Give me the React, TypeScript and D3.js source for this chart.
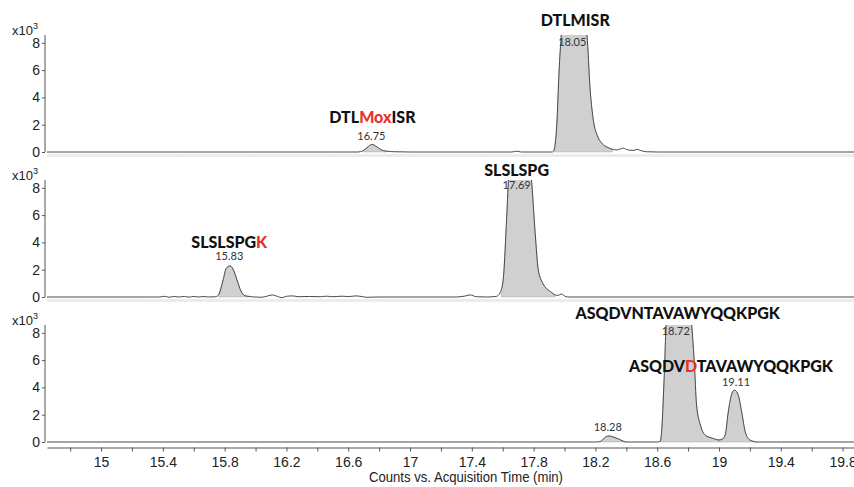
import React, { useRef, useEffect } from "react";
import * as d3 from "d3";

// chromatogram traces: [acquisition time (min), counts (x10^3)]
const traceDTLMISR: [number, number][] = [
  [14.65, 0], [15.5, 0], [16.0, 0], [16.5, 0], [16.66, 0], [16.7, 0.12], [16.73, 0.4],
  [16.755, 0.56], [16.78, 0.42], [16.81, 0.18], [16.85, 0.06], [16.9, 0.02], [17.0, 0],
  [17.5, 0], [17.66, 0], [17.69, 0.06], [17.72, 0], [17.92, 0], [17.932, 0.15],
  [17.949, 1.84], [17.966, 6.2], [17.982, 9.0], [18.0, 11], [18.05, 12.5], [18.1, 11.5],
  [18.13, 9.5], [18.146, 8.5], [18.165, 4.73], [18.184, 2.55], [18.217, 1.09],
  [18.245, 0.6], [18.275, 0.36], [18.31, 0.2], [18.34, 0.15], [18.36, 0.22], [18.38, 0.28],
  [18.41, 0.15], [18.45, 0.12], [18.47, 0.2], [18.49, 0.12], [18.53, 0.02], [18.6, 0],
  [19.874, 0],
];

const traceSLSLSPG: [number, number][] = [
  [14.65, 0], [15.3, 0], [15.38, 0], [15.41, 0.05], [15.44, -0.02], [15.47, 0.04],
  [15.5, 0], [15.54, 0.04], [15.57, -0.01], [15.6, 0.04], [15.63, 0], [15.66, 0.03],
  [15.7, 0], [15.74, 0.02], [15.76, 0.15], [15.79, 1.25], [15.81, 2.1], [15.835, 2.28],
  [15.86, 1.9], [15.88, 1.25], [15.905, 0.45], [15.93, 0.1], [15.96, 0.04], [15.99, 0],
  [16.04, -0.02], [16.08, 0.08], [16.11, 0.15], [16.14, 0.05], [16.17, -0.05],
  [16.2, 0.05], [16.24, 0.08], [16.28, 0.02], [16.35, 0.04], [16.42, 0.02], [16.46, 0.06],
  [16.5, 0.02], [16.56, 0.06], [16.6, 0.03], [16.65, 0.08], [16.69, 0.03], [16.72, -0.02],
  [16.8, 0], [17.3, 0], [17.36, 0.08], [17.39, 0.15], [17.43, 0.02], [17.5, 0],
  [17.56, 0.05], [17.59, 0.5], [17.605, 1.5], [17.626, 5.9], [17.64, 9], [17.7, 12],
  [17.76, 10], [17.785, 8.7], [17.81, 4.7], [17.83, 2.0], [17.86, 1.0], [17.91, 0.39],
  [17.94, 0.15], [17.96, 0.12], [17.98, 0.22], [18.0, 0.08], [18.02, 0], [19.874, 0],
];

const traceASQDV: [number, number][] = [
  [14.65, 0], [18.2, 0], [18.23, 0.03], [18.25, 0.2], [18.27, 0.4], [18.29, 0.44],
  [18.32, 0.35], [18.35, 0.22], [18.38, 0.06], [18.4, 0], [18.6, 0], [18.62, 0.05],
  [18.63, 1.0], [18.645, 4.7], [18.66, 9.0], [18.72, 12.5], [18.79, 11], [18.82, 9],
  [18.84, 5.86], [18.855, 2.7], [18.88, 1.24], [18.91, 0.51], [18.96, 0.27], [19.0, 0.15],
  [19.02, 0.2], [19.04, 0.51], [19.06, 2.2], [19.08, 3.43], [19.1, 3.8], [19.125, 3.43],
  [19.147, 2.2], [19.17, 0.75], [19.2, 0.15], [19.25, 0], [19.874, 0],
];

// integrated peak windows (min)
const windowsDTLMISR = [[16.68, 16.88], [17.93, 18.31]];
const windowsSLSLSPG = [[15.75, 15.97], [17.57, 17.95]];
const windowsASQDV = [[18.23, 18.4], [18.62, 19.0], [19.0, 19.25]];

// peak annotations: retention time, name pieces [text, modified?]
const rtDTLMISR = [16.75, 18.05];
const rtSLSLSPG = [15.83, 17.69];
const rtASQDV = [18.28, 18.72, 19.11];
const namesDTLMISR: [string, boolean][][] = [
  [["DTL", false], ["Mox", true], ["ISR", false]],
  [["DTLMISR", false]],
];
const namesSLSLSPG: [string, boolean][][] = [
  [["SLSLSPG", false], ["K", true]],
  [["SLSLSPG", false]],
];
const namesASQDV: [string, boolean][][] = [
  [],
  [["ASQDVNTAVAWYQQKPGK", false]],
  [["ASQDV", false], ["D", true], ["TAVAWYQQKPGK", false]],
];

const yTicks = [0, 2, 4, 6, 8];
const xTicks = [14.8, 15, 15.2, 15.4, 15.6, 15.8, 16, 16.2, 16.4, 16.6, 16.8, 17, 17.2, 17.4,
  17.6, 17.8, 18, 18.2, 18.4, 18.6, 18.8, 19, 19.2, 19.4, 19.6, 19.8];
const xTickLabels = [15, 15.4, 15.8, 16.2, 16.6, 17, 17.4, 17.8, 18.2, 18.6, 19, 19.4, 19.8];

// layout for the labels (offset from panel zero line, px)
const labelLayout = [
  { rtDy: [-15.5, -110], nameDy: [-35, -132], nameDx: [1, 3] },
  { rtDy: [-40.5, -111.5], nameDy: [-54.5, -126.5], nameDx: [0, 0] },
  { rtDy: [-15, -111, -60], nameDy: [0, -128.5, -76], nameDx: [0, 2, -5] },
];

const App = () => {
  const svgRef = useRef<SVGSVGElement>(null);

  useEffect(() => {
    const svg = d3.select(svgRef.current);
    svg.selectAll("*").remove();

    const x = d3.scaleLinear().domain([14.65, 19.874]).range([47, 854]);
    const zeros = [152, 297, 442];
    const traces = [traceDTLMISR, traceSLSLSPG, traceASQDV];
    const windows = [windowsDTLMISR, windowsSLSLSPG, windowsASQDV];
    const rts = [rtDTLMISR, rtSLSLSPG, rtASQDV];
    const names = [namesDTLMISR, namesSLSLSPG, namesASQDV];
    const axisFont = "'Liberation Sans', Arial, sans-serif";
    const peakFont = "Lato, 'Open Sans', sans-serif";

    zeros.forEach((zero, i) => {
      const y = d3.scaleLinear().domain([0, 8]).range([zero, zero - 109.2]);
      const top = zero - 117;
      const g = svg.append("g");

      // light panel border below the baseline
      if (i < 2) {
        g.append("rect").attr("x", 47).attr("y", zero + 2).attr("width", 807)
          .attr("height", 3).attr("fill", "#ececec");
      }

      const clipId = `clip${i}`;
      svg.append("clipPath").attr("id", clipId).append("rect")
        .attr("x", 47).attr("y", top).attr("width", 807).attr("height", zero + 3 - top);

      const area = d3.area<[number, number]>()
        .x((d) => x(d[0])).y0(y(0)).y1((d) => y(d[1]))
        .curve(d3.curveMonotoneX);
      const line = d3.line<[number, number]>()
        .x((d) => x(d[0])).y((d) => y(d[1]))
        .curve(d3.curveMonotoneX);

      const plot = g.append("g").attr("clip-path", `url(#${clipId})`);
      plot.selectAll(".peak")
        .data(windows[i])
        .join("path")
        .attr("class", "peak")
        .attr("d", (w) => area(traces[i].filter((d) => d[0] >= w[0] - 1e-9 && d[0] <= w[1] + 1e-9)))
        .attr("fill", "#d0d0d0")
        .attr("stroke", "#9a9a9a")
        .attr("stroke-width", 0.4);
      plot.append("path")
        .attr("d", line(traces[i]))
        .attr("fill", "none")
        .attr("stroke", "#4a4a4a")
        .attr("stroke-width", 1);

      // y axis
      const yAxis = d3.axisLeft(y).tickValues(yTicks).tickSize(3).tickPadding(2).tickSizeOuter(0);
      const ya = g.append("g").attr("transform", "translate(45,0)").call(yAxis);
      ya.select(".domain").remove();
      ya.selectAll("line").attr("stroke", "#555");
      ya.selectAll("text").attr("font-family", axisFont).attr("font-size", 14).attr("fill", "#222");
      g.append("line").attr("x1", 45).attr("x2", 45).attr("y1", top).attr("y2", zero)
        .attr("stroke", "#555");
      const mult = g.append("text").attr("x", 12).attr("y", top)
        .attr("font-family", axisFont).attr("font-size", 13).attr("fill", "#222");
      mult.append("tspan").text("x10");
      mult.append("tspan").attr("dy", -6).attr("font-size", 9).text("3");

      // annotations
      const lay = labelLayout[i];
      rts[i].forEach((rt, k) => {
        g.append("text")
          .attr("x", x(rt))
          .attr("y", zero + lay.rtDy[k])
          .attr("dy", "0.35em")
          .attr("text-anchor", "middle")
          .attr("font-family", peakFont)
          .attr("font-size", 11)
          .attr("fill", "#333")
          .text(rt.toFixed(2));
        const parts = names[i][k];
        if (parts.length) {
          const t = g.append("text")
            .attr("x", x(rt) + lay.nameDx[k])
            .attr("y", zero + lay.nameDy[k])
            .attr("dy", "0.35em")
            .attr("text-anchor", "middle")
            .attr("font-family", peakFont)
            .attr("font-weight", 900)
            .attr("font-size", 16)
            .attr("fill", "#111");
          t.selectAll("tspan")
            .data(parts)
            .join("tspan")
            .attr("fill", (p) => (p[1] ? "#e8322b" : "#111"))
            .text((p) => p[0]);
        }
      });
    });

    // x axis
    const xAxis = d3.axisBottom(x).tickValues(xTicks).tickSize(4).tickPadding(6).tickSizeOuter(0)
      .tickFormat((d) => (xTickLabels.some((v) => Math.abs(v - +d) < 1e-6) ? String(d) : ""));
    const xa = svg.append("g").attr("transform", "translate(0,447.5)").call(xAxis);
    xa.select(".domain").attr("stroke", "#555");
    xa.selectAll("line").attr("stroke", "#555");
    xa.selectAll("text").attr("font-family", axisFont).attr("font-size", 14).attr("fill", "#222")
      .attr("transform", function () {
        const el = this as SVGTextElement;
        return `translate(${0},0)`;
      });

    svg.append("text")
      .attr("x", 466)
      .attr("y", 477)
      .attr("dy", "0.35em")
      .attr("text-anchor", "middle")
      .attr("font-family", axisFont)
      .attr("font-size", 14)
      .attr("fill", "#222")
      .attr("textLength", 194)
      .attr("lengthAdjust", "spacingAndGlyphs")
      .text("Counts vs. Acquisition Time (min)");
  }, []);

  return (
    <svg
      ref={svgRef}
      width={854}
      height={487}
      style={{ position: "absolute", left: 0, top: 0, background: "#fff" }}
    />
  );
};

export default App;
